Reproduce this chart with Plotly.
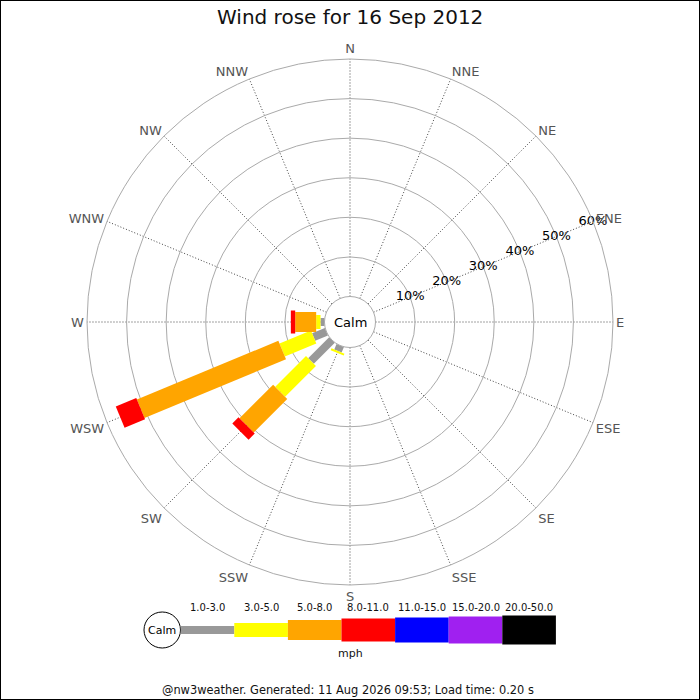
import plotly.graph_objects as go

# Wind rose, 16 Sep 2012 (percent of time per direction and speed class)
directions = ['N', 'NNE', 'NE', 'ENE', 'E', 'ESE', 'SE', 'SSE',
              'S', 'SSW', 'SW', 'WSW', 'W', 'WNW', 'NW', 'NNW']
speed_classes = ['1.0-3.0', '3.0-5.0', '5.0-8.0', '8.0-11.0',
                 '11.0-15.0', '15.0-20.0', '20.0-50.0']

bar_dirs = ['SSW', 'SW', 'WSW', 'W']
pct_1_3 = [1.5, 7.5, 3.5, 1.0]
pct_3_5 = [0.5, 11.0, 8.6, 1.1]
pct_5_8 = [0.0, 12.0, 38.7, 5.3]
pct_8_11 = [0.0, 2.2, 5.6, 1.1]
pct_11_15 = [0.0, 0.0, 0.0, 0.0]
pct_15_20 = [0.0, 0.0, 0.0, 0.0]
pct_20_50 = [0.0, 0.0, 0.0, 0.0]

radial_ticks = [0, 10, 20, 30, 40, 50, 60]
radial_labels = ['10%', '20%', '30%', '40%', '50%', '60%']
label_dir = 'ENE'

# styling
class_colors = ['#999999', '#ffff00', '#ffa500', '#ff0000',
                '#0000ff', '#a020f0', '#000000']
seg_px = [8, 14, 20, 23, 25, 27, 29]
FONT = 'DejaVu Sans'
W = H = 700

all_pct = [pct_1_3, pct_3_5, pct_5_8, pct_8_11, pct_11_15, pct_15_20, pct_20_50]

fig = go.Figure()

# stacked segments, one trace per speed class (line width = bar thickness)
base = [0.0] * len(bar_dirs)
for i, vals in enumerate(all_pct):
    r, th = [], []
    for j, v in enumerate(vals):
        if v > 0:
            r += [base[j], base[j] + v, None]
            th += [bar_dirs[j], bar_dirs[j], None]
            base[j] += v
    if not r:
        continue
    fig.add_trace(go.Scatterpolar(
        r=r, theta=th, mode='lines', connectgaps=False,
        line=dict(color=class_colors[i], width=seg_px[i]),
        name=speed_classes[i], showlegend=False, hoverinfo='skip',
    ))

# percentage labels sitting on the rings along the ENE spoke
fig.add_trace(go.Scatterpolar(
    r=radial_ticks[1:], theta=[label_dir] * len(radial_labels),
    mode='text', text=radial_labels, textposition='middle center',
    textfont=dict(family=FONT, size=13, color='#000'),
    showlegend=False, hoverinfo='skip',
))

cx, cy, R = 350, 322, 263
fig.update_layout(
    width=W, height=H,
    margin=dict(l=0, r=0, t=0, b=0),
    paper_bgcolor='white',
    font=dict(family=FONT, size=13, color='#000'),
    polar=dict(
        domain=dict(x=[(cx - R) / W, (cx + R) / W],
                    y=[1 - (cy + R) / H, 1 - (cy - R) / H]),
        hole=0.097,
        bgcolor='white',
        angularaxis=dict(
            type='category', categoryarray=directions,
            direction='clockwise', rotation=90,
            showgrid=True, gridcolor='#444', griddash='1px,2px', gridwidth=1,
            showline=True, linecolor='#aaa', linewidth=1,
            ticks='', tickfont=dict(size=13, color='#555'),
        ),
        radialaxis=dict(
            range=[0, 60], tickvals=radial_ticks,
            showticklabels=False, showline=False, ticks='',
            gridcolor='#aaa', gridwidth=1,
        ),
    ),
)

def px(x, y):
    return x / W, 1 - y / H

ann = []
shapes = []

# title, calm text, footer
ann.append(dict(text='Wind rose for 16 Sep 2012', x=px(cx, 17)[0], y=px(cx, 17)[1],
                font=dict(size=20, color='#111')))
ann.append(dict(text='Calm', x=px(cx, cy)[0], y=px(cx, cy)[1],
                font=dict(size=13, color='#000')))
ann.append(dict(text='@nw3weather. Generated: 11 Aug 2026 09:53; Load time: 0.20 s',
                x=px(348, 690)[0], y=px(cx, 690)[1], font=dict(size=11.4, color='#111')))

# legend strip
lx0, lcy, lw = 180.7, 630, 53.6
shapes.append(dict(type='circle', xref='paper', yref='paper',
                   x0=px(144, 0)[0], x1=px(180.5, 0)[0],
                   y0=px(0, lcy + 18)[1], y1=px(0, lcy - 18)[1],
                   line=dict(color='#000', width=1), fillcolor='white'))
ann.append(dict(text='Calm', x=px(162, lcy)[0], y=px(162, lcy)[1],
                font=dict(size=11, color='#000')))
for i, name in enumerate(speed_classes):
    x0 = lx0 + i * lw
    h = seg_px[i]
    shapes.append(dict(type='rect', xref='paper', yref='paper',
                       x0=px(x0, 0)[0], x1=px(x0 + lw, 0)[0],
                       y0=px(0, lcy + h / 2)[1], y1=px(0, lcy - h / 2)[1],
                       line=dict(width=0), fillcolor=class_colors[i]))
    ann.append(dict(text=name, x=px(x0 + lw / 2, 607)[0], y=px(0, 607)[1],
                    font=dict(size=10, color='#111')))
ann.append(dict(text='mph', x=px(cx, 653)[0], y=px(cx, 653)[1],
                font=dict(size=11, color='#111')))

# frame
shapes.append(dict(type='rect', xref='paper', yref='paper', x0=0, x1=1, y0=0, y1=1,
                   line=dict(color='#000', width=2)))

for a in ann:
    a.update(xref='paper', yref='paper', showarrow=False,
             xanchor='center', yanchor='middle')
fig.update_layout(annotations=ann, shapes=shapes)

fig.write_html("out.html", config={'displayModeBar': False},
               post_script="document.body.style.margin='0';")
